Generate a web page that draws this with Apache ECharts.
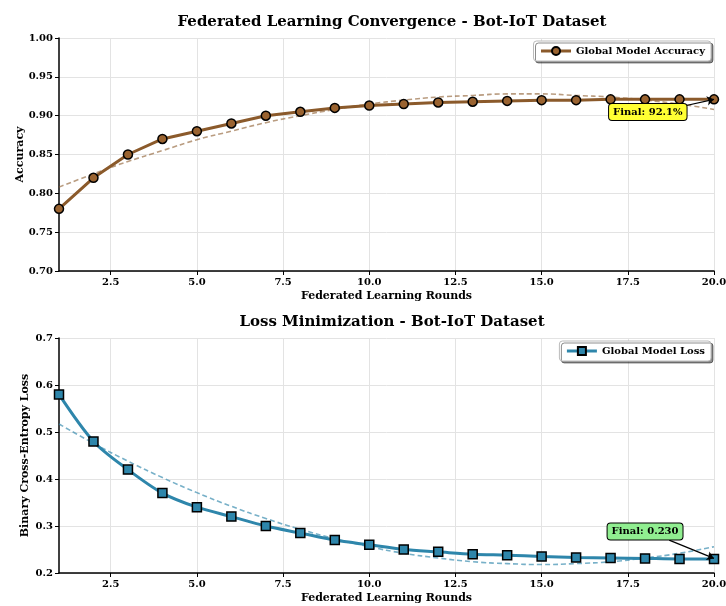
<!DOCTYPE html>
<html><head><meta charset="utf-8">
<script src="https://cdn.jsdelivr.net/npm/echarts@6/dist/echarts.min.js"></script>
<style>html,body{margin:0;padding:0;background:#fff}#c{width:726px;height:606px}</style>
</head><body><div id="c"></div>
<script>
const rounds = [1,2,3,4,5,6,7,8,9,10,11,12,13,14,15,16,17,18,19,20];
const accuracy = [0.78,0.82,0.85,0.87,0.88,0.89,0.90,0.905,0.91,0.913,0.915,0.917,0.918,0.919,0.920,0.920,0.921,0.921,0.921,0.921];
const accuracyTrend = [0.808,0.825,0.841,0.855,0.869,0.880,0.891,0.900,0.908,0.915,0.920,0.924,0.926,0.928,0.928,0.926,0.924,0.920,0.915,0.908];
const loss = [0.58,0.48,0.42,0.37,0.34,0.32,0.30,0.285,0.27,0.26,0.25,0.245,0.24,0.238,0.235,0.233,0.232,0.231,0.230,0.230];
const lossTrend = [0.517,0.476,0.438,0.403,0.371,0.342,0.316,0.293,0.273,0.256,0.242,0.232,0.224,0.220,0.218,0.220,0.224,0.232,0.242,0.256];
const xTicks = [2.5,5,7.5,10,12.5,15,17.5,20];
const accTicks = [0.70,0.75,0.80,0.85,0.90,0.95,1.00];
const lossTicks = [0.2,0.3,0.4,0.5,0.6,0.7];

const FONT = 'DejaVu Serif';
const chart = echarts.init(document.getElementById('c'));
const pair = (xs, ys) => xs.map((x, i) => [x, ys[i]]);

function xAxisCfg(idx) {
  return {
    type: 'value', gridIndex: idx, min: 1, max: 20,
    name: 'Federated Learning Rounds', nameLocation: 'middle', nameGap: 20, nameMoveOverlap: false,
    nameTextStyle: {fontFamily: FONT, fontWeight: 'bold', fontSize: 11, color: '#000'},
    axisLine: {show: true, onZero: false, lineStyle: {color: '#000', width: 1.5}},
    axisTick: {show: true, length: 4, customValues: xTicks, lineStyle: {color: '#000'}},
    axisLabel: {customValues: xTicks, formatter: v => v.toFixed(1), fontFamily: FONT, fontWeight: 'bold', fontSize: 10, color: '#000', margin: 6},
    splitLine: {show: true, lineStyle: {color: '#e3e3e3', width: 1}}
  };
}
function yAxisCfg(idx, min, max, interval, name, gap, dec) {
  return {
    type: 'value', gridIndex: idx, min: min, max: max, interval: interval,
    name: name, nameLocation: 'middle', nameGap: gap, nameMoveOverlap: false,
    nameTextStyle: {fontFamily: FONT, fontWeight: 'bold', fontSize: 11, color: '#000'},
    axisLine: {show: true, lineStyle: {color: '#000', width: 1.5}},
    axisTick: {show: true, length: 4, lineStyle: {color: '#000'}},
    axisLabel: {formatter: v => v.toFixed(dec), fontFamily: FONT, fontWeight: 'bold', fontSize: 10, color: '#000', margin: 6},
    splitLine: {show: true, lineStyle: {color: '#e3e3e3', width: 1}}
  };
}

const legendBase = {
  right: 15, orient: 'vertical',
  backgroundColor: '#fff', borderColor: '#bbb', borderWidth: 1, borderRadius: 3, padding: [5, 6],
  shadowColor: 'rgba(0,0,0,0.45)', shadowOffsetX: 2, shadowOffsetY: 2, shadowBlur: 0,
  itemWidth: 30, itemHeight: 10,
  lineStyle: {width: 3},
  textStyle: {fontFamily: FONT, fontWeight: 'bold', fontSize: 10, color: '#000'}
};

const option = {
  animation: false,
  backgroundColor: '#fff',
  title: [
    {text: 'Federated Learning Convergence - Bot-IoT Dataset', left: 387, textAlign: 'center', top: 10,
     textStyle: {fontFamily: FONT, fontWeight: 'bold', fontSize: 15, color: '#000'}},
    {text: 'Loss Minimization - Bot-IoT Dataset', left: 387, textAlign: 'center', top: 310,
     textStyle: {fontFamily: FONT, fontWeight: 'bold', fontSize: 15, color: '#000'}}
  ],
  legend: [
    Object.assign({}, legendBase, {data: ['Global Model Accuracy'], top: 41}),
    Object.assign({}, legendBase, {data: ['Global Model Loss'], top: 341})
  ],
  grid: [
    {left: 59, right: 12, top: 38, height: 233, containLabel: false, outerBoundsMode: 'none'},
    {left: 59, right: 12, top: 338, height: 235, containLabel: false, outerBoundsMode: 'none'}
  ],
  xAxis: [xAxisCfg(0), xAxisCfg(1)],
  yAxis: [
    yAxisCfg(0, 0.70, 1.00, 0.05, 'Accuracy', 33, 2),
    yAxisCfg(1, 0.2, 0.7, 0.1, 'Binary Cross-Entropy Loss', 28, 1)
  ],
  series: [
    {name: 'Accuracy Trend', type: 'line', xAxisIndex: 0, yAxisIndex: 0, data: pair(rounds, accuracyTrend),
     smooth: true, showSymbol: false, symbol: 'none', z: 1,
     lineStyle: {color: 'rgba(139,90,43,0.6)', width: 1.6, type: [5, 3]}},
    {name: 'Global Model Accuracy', type: 'line', xAxisIndex: 0, yAxisIndex: 0, data: pair(rounds, accuracy),
     symbol: 'circle', symbolSize: 9, z: 3,
     lineStyle: {color: '#8B5A2B', width: 3},
     itemStyle: {color: '#9A6330', borderColor: '#000', borderWidth: 1.5},
     markLine: {silent: true, symbol: ['none', 'arrow'], symbolSize: 7,
       lineStyle: {color: '#000', width: 1.2, type: 'solid'}, label: {show: false},
       data: [[{coord: [19.13, 0.9124]}, {coord: [20, 0.921]}]]},
     markPoint: {silent: true, symbol: 'rect', symbolSize: 1, itemStyle: {color: 'rgba(0,0,0,0)'},
       data: [{coord: [18.08, 0.9047], value: 'Final: 92.1%'}],
       label: {show: true, position: 'inside', formatter: 'Final: 92.1%', fontFamily: FONT, fontWeight: 'bold', fontSize: 10, color: '#000',
         backgroundColor: '#ffff33', borderColor: '#000', borderWidth: 1, borderRadius: 3, padding: [3, 4]}}},
    {name: 'Loss Trend', type: 'line', xAxisIndex: 1, yAxisIndex: 1, data: pair(rounds, lossTrend),
     smooth: true, showSymbol: false, symbol: 'none', z: 1,
     lineStyle: {color: 'rgba(46,134,171,0.65)', width: 1.6, type: [5, 3]}},
    {name: 'Global Model Loss', type: 'line', xAxisIndex: 1, yAxisIndex: 1, data: pair(rounds, loss),
     symbol: 'rect', symbolSize: 9, smooth: 0.3, z: 3,
     lineStyle: {color: '#2E86AB', width: 3},
     itemStyle: {color: '#2E86AB', borderColor: '#000', borderWidth: 1.5},
     markLine: {silent: true, symbol: ['none', 'arrow'], symbolSize: 7,
       lineStyle: {color: '#000', width: 1.2, type: 'solid'}, label: {show: false},
       data: [[{coord: [18.70, 0.270]}, {coord: [20, 0.231]}]]},
     markPoint: {silent: true, symbol: 'rect', symbolSize: 1, itemStyle: {color: 'rgba(0,0,0,0)'},
       data: [{coord: [18.0, 0.2883], value: 'Final: 0.230'}],
       label: {show: true, position: 'inside', formatter: 'Final: 0.230', fontFamily: FONT, fontWeight: 'bold', fontSize: 10, color: '#000',
         backgroundColor: '#90ee90', borderColor: '#000', borderWidth: 1, borderRadius: 3, padding: [3, 4]}}}
  ]
};
chart.setOption(option);
</script>
</body></html>
